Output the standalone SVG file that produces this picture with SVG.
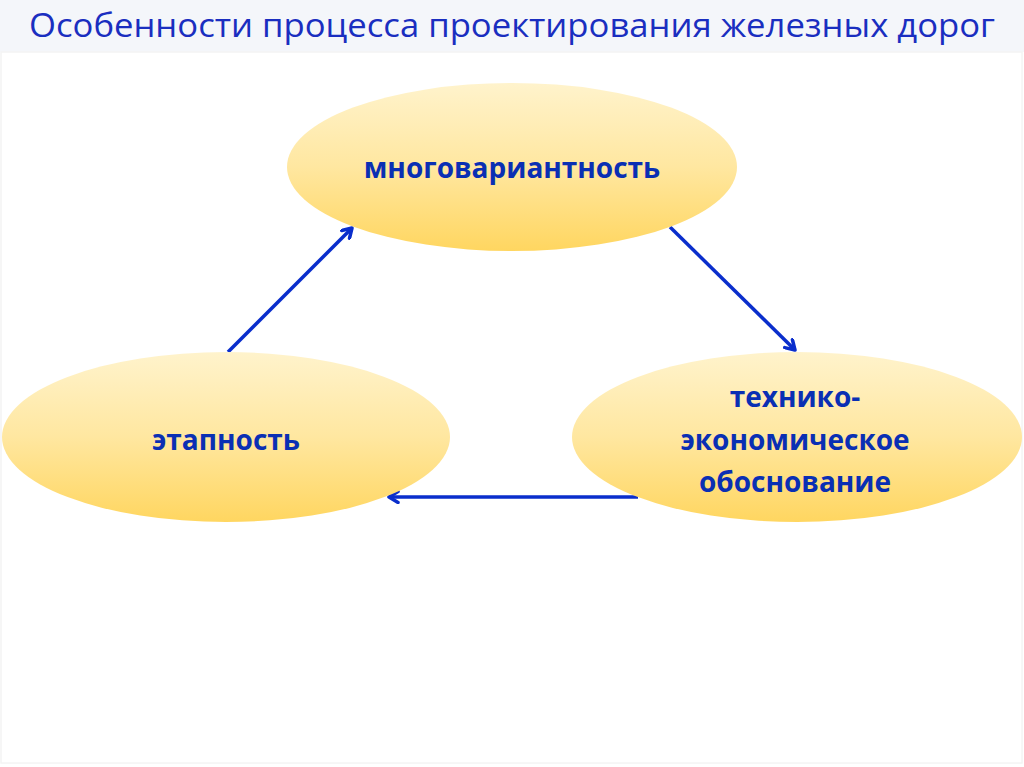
<svg xmlns="http://www.w3.org/2000/svg" width="1024" height="767" viewBox="0 0 1024 767">
<defs>
<linearGradient id="g" x1="0" y1="0" x2="0" y2="1">
<stop offset="0" stop-color="#FFF3CC"/>
<stop offset="0.5" stop-color="#FFE7A0"/>
<stop offset="1" stop-color="#FFD660"/>
</linearGradient>
<marker id="ah" viewBox="0 0 14 14" refX="11" refY="7" markerWidth="14" markerHeight="14" markerUnits="userSpaceOnUse" orient="auto">
<path d="M2,1.5 L11,7 L2,12.5" fill="none" stroke="#0A2ECC" stroke-width="3.5" stroke-linecap="round" stroke-linejoin="round"/>
</marker>
</defs>
<style>
.node{fill:url(#g);}
.lbl{font-family:"Open Sans","Noto Sans",sans-serif;font-weight:bold;font-size:28px;fill:#0A2FB4;text-anchor:middle;}
.conn{stroke:#0A2ECC;stroke-width:3.5;fill:none;marker-end:url(#ah);}
</style>
<rect x="0" y="0" width="1024" height="767" fill="#FFFFFF"/>
<rect x="0" y="0" width="1024" height="52" fill="#F4F6FA"/>
<rect x="1" y="52" width="1021" height="711" fill="none" stroke="#F4F4F4" stroke-width="1.5"/>
<text x="512" y="37" font-family="'Open Sans','Noto Sans',sans-serif" font-size="33" fill="#1A2EC0" text-anchor="middle" textLength="966" lengthAdjust="spacingAndGlyphs">Особенности процесса проектирования железных дорог</text>
<g id="connectors">
<line class="conn" x1="228" y1="352" x2="352" y2="228"/>
<line class="conn" x1="670" y1="227" x2="795" y2="350"/>
<line class="conn" x1="638" y1="497" x2="389" y2="497"/>
</g>
<g id="node-mnogovariantnost">
<ellipse class="node" cx="512" cy="167" rx="225" ry="84"/>
<text class="lbl" x="512" y="178">многовариантность</text>
</g>
<g id="node-etapnost">
<ellipse class="node" cx="226" cy="437" rx="224" ry="85"/>
<text class="lbl" x="226" y="450">этапность</text>
</g>
<g id="node-teo">
<ellipse class="node" cx="797" cy="437" rx="225" ry="85"/>
<text class="lbl" x="795" y="407">технико-</text>
<text class="lbl" x="795" y="450">экономическое</text>
<text class="lbl" x="795" y="492">обоснование</text>
</g>
</svg>
